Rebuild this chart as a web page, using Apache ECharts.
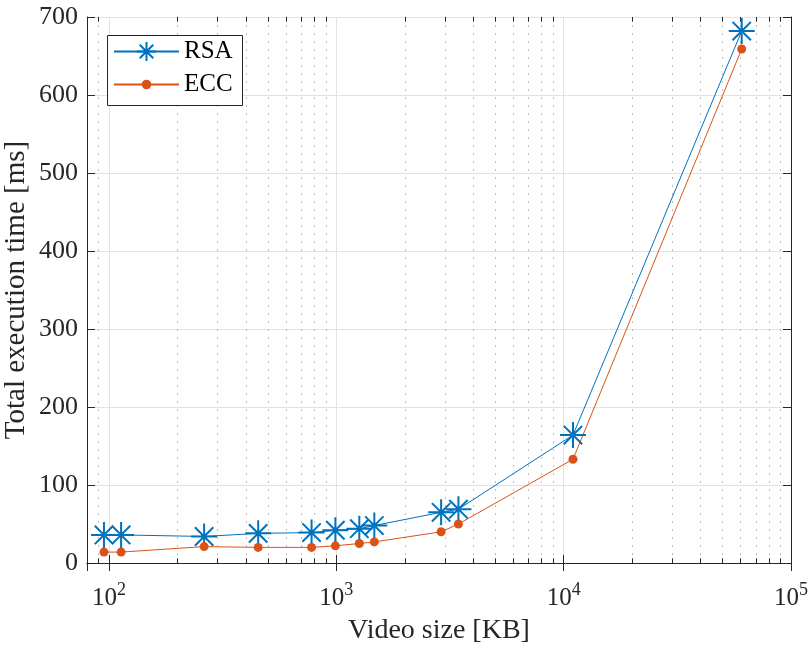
<!DOCTYPE html>
<html>
<head>
<meta charset="utf-8">
<script src="https://cdn.jsdelivr.net/npm/echarts@6/dist/echarts.min.js"></script>
<style>
  html, body { margin: 0; padding: 0; background: #fff; }
  #container { width: 808px; height: 648px; }
</style>
</head>
<body>
<div id="container"></div>
<script>
var sizes = [95, 113, 262, 453, 778, 990, 1262, 1469, 2890, 3444, 10990, 60700];
var rsa = [36, 36, 34, 38, 39, 42, 44, 48, 65, 69, 164, 682];
var ecc = [14, 14, 21, 20, 20, 22, 25, 27, 40, 50, 133, 659];
var yTicks = [0, 100, 200, 300, 400, 500, 600, 700];

var dom = document.getElementById('container');
var myChart = echarts.init(dom, null, { renderer: 'canvas' });

const colors = ['#0072BD', '#D95319'];
const axisColor = '#262626';
const font = 'Liberation Serif';

// dotted minor grid lines at 2..9 x 10^k, plus small inside ticks top/bottom
var minorVals = [];
[1e1, 1e2, 1e3, 1e4].forEach(function (d) {
  for (var m = 2; m <= 9; m++) {
    var v = m * d;
    if (v > 80 && v < 1e5) minorVals.push(v);
  }
});
var minorLines = minorVals.map(function (v) { return { xAxis: v }; });
var minorTicks = [];
minorVals.forEach(function (v) {
  minorTicks.push([{ coord: [v, 0] }, { coord: [v, 6] }]);
  minorTicks.push([{ coord: [v, 700] }, { coord: [v, 694] }]);
});

var star = 'path://M0,-10L0,10M-10,0L10,0M-7.07,-7.07L7.07,7.07M-7.07,7.07L7.07,-7.07';

function logLabel(v) {
  var e = Math.log10(v);
  if (Math.abs(e - Math.round(e)) < 1e-6) return '{b|10}{s|' + Math.round(e) + '}';
  return '';
}

var legendText = { fontFamily: font, fontSize: 25, color: '#000' };

var option = {
  animation: false,
  backgroundColor: '#fff',
  textStyle: { fontFamily: font },
  grid: { left: 87, right: 17, top: 17, bottom: 85, outerBoundsMode: 'none', containLabel: false },
  graphic: [
    {
      type: 'rect',
      left: 107,
      top: 35,
      z: 3,
      shape: { width: 135, height: 70 },
      style: { fill: '#fff', stroke: axisColor, lineWidth: 1 }
    }
  ],
  legend: [
    {
      left: 113,
      top: 39,
      padding: 0,
      itemWidth: 65,
      itemHeight: 24,
      z: 4,
      textStyle: legendText,
      data: ['RSA']
    },
    {
      left: 113,
      top: 72,
      padding: 0,
      itemWidth: 65,
      itemHeight: 12,
      z: 4,
      textStyle: legendText,
      data: ['ECC']
    }
  ],
  xAxis: [
    {
      type: 'log',
      min: 80,
      max: 100000,
      name: 'Video size [KB]',
      nameLocation: 'middle',
      nameGap: 54,
      nameMoveOverlap: false,
      nameTextStyle: { fontFamily: font, fontSize: 28, color: axisColor },
      axisLine: { lineStyle: { color: axisColor, width: 1 } },
      axisTick: { inside: true, length: 8, lineStyle: { color: axisColor } },
      axisLabel: {
        margin: 18,
        formatter: logLabel,
        rich: {
          b: { fontFamily: font, fontSize: 25, color: axisColor, verticalAlign: 'bottom', lineHeight: 30 },
          s: { fontFamily: font, fontSize: 18, color: axisColor, verticalAlign: 'top', lineHeight: 30, padding: [0, 0, 12, 0] }
        }
      },
      splitLine: { show: true, lineStyle: { color: '#e3e3e3', width: 1 } }
    },
    {
      type: 'log',
      min: 80,
      max: 100000,
      position: 'top',
      axisLine: { lineStyle: { color: axisColor, width: 1 } },
      axisTick: { inside: true, length: 8, lineStyle: { color: axisColor } },
      axisLabel: { show: false },
      splitLine: { show: false }
    }
  ],
  yAxis: [
    {
      type: 'value',
      min: 0,
      max: 700,
      interval: 100,
      name: 'Total execution time [ms]',
      nameLocation: 'middle',
      nameGap: 56,
      nameMoveOverlap: false,
      nameTextStyle: { fontFamily: font, fontSize: 29, color: axisColor },
      axisLine: { show: true, lineStyle: { color: axisColor, width: 1 } },
      axisTick: { show: true, inside: true, length: 8, lineStyle: { color: axisColor } },
      axisLabel: {
        margin: 9,
        fontFamily: font,
        fontSize: 26,
        color: axisColor,
        formatter: function (v) { return yTicks.indexOf(v) >= 0 ? String(v) : ''; }
      },
      splitLine: { show: true, lineStyle: { color: '#e3e3e3', width: 1 } }
    },
    {
      type: 'value',
      min: 0,
      max: 700,
      interval: 100,
      position: 'right',
      axisLine: { show: true, lineStyle: { color: axisColor, width: 1 } },
      axisTick: { show: true, inside: true, length: 8, lineStyle: { color: axisColor } },
      axisLabel: { show: false },
      splitLine: { show: false }
    }
  ],
  series: [
    {
      name: 'RSA',
      type: 'line',
      data: sizes.map(function (s, i) { return [s, rsa[i]]; }),
      symbol: star,
      symbolSize: 26,
      z: 2,
      lineStyle: { color: colors[0], width: 1 },
      itemStyle: { color: 'none', borderColor: colors[0], borderWidth: 2 },
      markLine: {
        silent: true,
        symbol: 'none',
        label: { show: false },
        animation: false,
        z: 1,
        lineStyle: { color: '#bdbdbd', type: [2, 6], width: 1 },
        data: minorLines
      }
    },
    {
      name: 'ECC',
      type: 'line',
      data: sizes.map(function (s, i) { return [s, ecc[i]]; }),
      symbol: 'circle',
      symbolSize: 9,
      z: 2,
      lineStyle: { color: colors[1], width: 1 },
      itemStyle: { color: colors[1], borderColor: colors[1], borderWidth: 0 },
      markLine: {
        silent: true,
        symbol: 'none',
        label: { show: false },
        animation: false,
        z: 1,
        lineStyle: { color: axisColor, type: 'solid', width: 1 },
        data: minorTicks
      }
    }
  ]
};

myChart.setOption(option);
window.addEventListener('resize', myChart.resize);
</script>
</body>
</html>
